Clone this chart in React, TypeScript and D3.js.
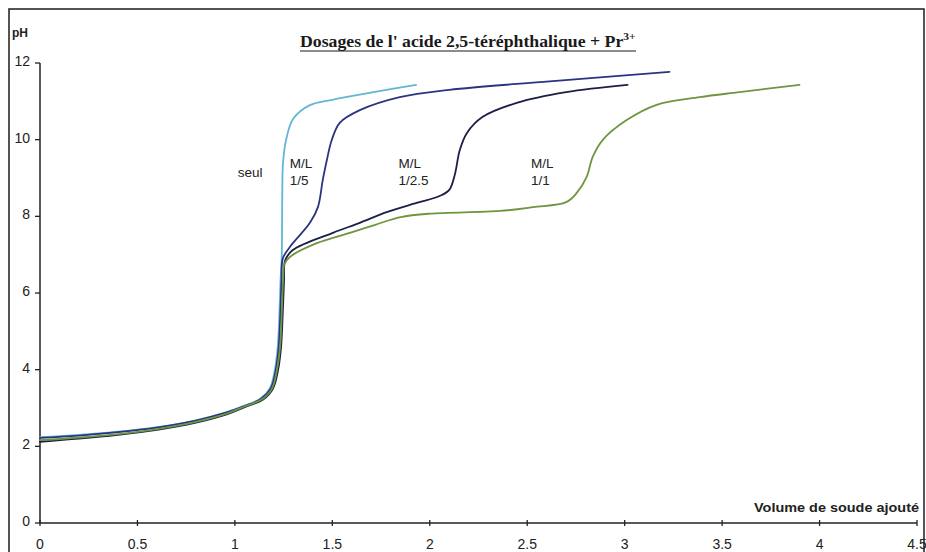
import React, { useEffect, useRef } from "react";
import * as d3 from "d3";

type Pt = [number, number];

const xTicks = [0, 0.5, 1, 1.5, 2, 2.5, 3, 3.5, 4, 4.5];
const yTicks = [0, 2, 4, 6, 8, 10, 12];

const seulData: Pt[] = [
  [0, 2.24], [0.2, 2.3], [0.4, 2.38], [0.6, 2.5], [0.8, 2.68], [0.95, 2.88],
  [1.05, 3.06], [1.13, 3.24], [1.18, 3.52], [1.205, 4.0], [1.22, 4.6],
  [1.228, 5.4], [1.234, 6.3], [1.24, 6.9], [1.242, 7.6], [1.243, 8.5],
  [1.247, 9.4], [1.265, 10.05], [1.3, 10.55], [1.385, 10.9], [1.5, 11.04],
  [1.69, 11.22], [1.93, 11.43],
];

const ml15Data: Pt[] = [
  [0, 2.22], [0.2, 2.28], [0.4, 2.37], [0.6, 2.49], [0.8, 2.67], [0.95, 2.87],
  [1.05, 3.05], [1.135, 3.24], [1.185, 3.52], [1.21, 4.0], [1.225, 4.6],
  [1.233, 5.4], [1.239, 6.3], [1.246, 6.9], [1.282, 7.2], [1.385, 7.83],
  [1.426, 8.24], [1.451, 8.95], [1.472, 9.47], [1.497, 9.99], [1.538, 10.44],
  [1.641, 10.77], [1.846, 11.11], [2.1, 11.3], [2.615, 11.52], [3.23, 11.77],
];

const ml125Data: Pt[] = [
  [0, 2.12], [0.2, 2.2], [0.4, 2.3], [0.6, 2.43], [0.8, 2.62], [0.95, 2.82],
  [1.05, 3.02], [1.145, 3.22], [1.195, 3.5], [1.222, 4.0], [1.237, 4.6],
  [1.245, 5.4], [1.252, 6.3], [1.258, 6.85], [1.297, 7.12], [1.503, 7.57],
  [1.641, 7.83], [1.779, 8.11], [1.933, 8.35], [2.05, 8.53], [2.1, 8.69],
  [2.128, 9.08], [2.154, 9.73], [2.19, 10.17], [2.27, 10.59], [2.446, 10.96],
  [2.7, 11.24], [3.015, 11.43],
];

const ml11Data: Pt[] = [
  [0, 2.16], [0.2, 2.23], [0.4, 2.32], [0.6, 2.45], [0.8, 2.64], [0.95, 2.84],
  [1.05, 3.04], [1.14, 3.23], [1.19, 3.5], [1.216, 4.0], [1.232, 4.6],
  [1.24, 5.4], [1.247, 6.3], [1.254, 6.75], [1.282, 6.94], [1.42, 7.3],
  [1.59, 7.57], [1.72, 7.78], [1.85, 7.98], [2.0, 8.07], [2.36, 8.14],
  [2.53, 8.24], [2.7, 8.37], [2.754, 8.61], [2.805, 9.03], [2.836, 9.55],
  [2.887, 9.99], [3.01, 10.51], [3.164, 10.91], [3.385, 11.11], [3.59, 11.24],
  [3.897, 11.43],
];

const seriesNames = ["seul", "M/L 1/5", "M/L 1/2.5", "M/L 1/1"];
const seriesData = [seulData, ml15Data, ml125Data, ml11Data];
const seriesColors = ["#62b6d4", "#2b3480", "#1c1f45", "#6f9540"];

// label lines and anchor in data coords [vol, pH]
const labelLines = [["seul"], ["M/L", "1/5"], ["M/L", "1/2.5"], ["M/L", "1/1"]];
const labelPos: Pt[] = [[1.015, 9.02], [1.282, 9.27], [1.84, 9.27], [2.52, 9.27]];

export default function App() {
  const ref = useRef<SVGSVGElement | null>(null);

  useEffect(() => {
    const svg = d3.select(ref.current);
    svg.selectAll("*").remove();

    const x = d3.scaleLinear().domain([0, 4.5]).range([40, 917]);
    const y = d3.scaleLinear().domain([0, 12]).range([523, 63]);

    svg.append("rect").attr("width", 926).attr("height", 552).attr("fill", "#fff");

    // outer frame
    svg
      .append("rect")
      .attr("x", 9)
      .attr("y", 9)
      .attr("width", 915)
      .attr("height", 600)
      .attr("fill", "none")
      .attr("stroke", "#2a2a2a")
      .attr("stroke-width", 1.6);

    const font = "Arial, 'Liberation Sans', sans-serif";
    const txt = "#222";

    // Y axis
    svg
      .append("line")
      .attr("x1", x(0)).attr("x2", x(0))
      .attr("y1", y(12)).attr("y2", y(0))
      .attr("stroke", "#222").attr("stroke-width", 1.5);
    const yg = svg.append("g");
    yTicks.forEach((t) => {
      yg.append("line")
        .attr("x1", x(0) - 5).attr("x2", x(0))
        .attr("y1", y(t)).attr("y2", y(t))
        .attr("stroke", "#222").attr("stroke-width", 1.3);
      yg.append("text")
        .attr("x", 30)
        .attr("y", y(t) + 3)
        .attr("text-anchor", "end")
        .attr("font-family", font)
        .attr("font-size", 14)
        .attr("fill", txt)
        .text(String(t));
    });

    // X axis
    svg
      .append("line")
      .attr("x1", x(0)).attr("x2", x(4.5))
      .attr("y1", y(0)).attr("y2", y(0))
      .attr("stroke", "#222").attr("stroke-width", 1.5);
    const xg = svg.append("g");
    xTicks.forEach((t) => {
      xg.append("line")
        .attr("x1", x(t)).attr("x2", x(t))
        .attr("y1", y(0) - 3).attr("y2", y(0) + 3)
        .attr("stroke", "#222").attr("stroke-width", 1.3);
      xg.append("text")
        .attr("x", x(t))
        .attr("y", 549)
        .attr("text-anchor", "middle")
        .attr("font-family", font)
        .attr("font-size", 14)
        .attr("fill", txt)
        .text(String(t));
    });

    // axis titles
    svg.append("text")
      .attr("x", 12).attr("y", 37)
      .attr("font-family", font).attr("font-size", 12).attr("font-weight", "bold")
      .attr("fill", txt).text("pH");
    svg.append("text")
      .attr("x", 919).attr("y", 512)
      .attr("text-anchor", "end")
      .attr("font-family", font).attr("font-size", 13).attr("font-weight", "bold")
      .attr("textLength", 165).attr("lengthAdjust", "spacingAndGlyphs")
      .attr("fill", txt).text("Volume de soude ajouté");

    // title
    const tg = svg.append("g");
    const title = tg.append("text")
      .attr("x", 0).attr("y", 0)
      .attr("font-family", "'Liberation Serif', 'Times New Roman', serif")
      .attr("font-size", 17)
      .attr("font-weight", "bold")
      .attr("fill", "#1a1a1a");
    title.append("tspan").text("Dosages de l' acide 2,5-téréphthalique + Pr");
    title.append("tspan").attr("dy", -7).attr("font-size", 11).text("3+");
    const bb = (title.node() as SVGTextElement).getBBox();
    const sx = 336 / bb.width;
    tg.attr("transform", `translate(300,47) scale(${sx},1)`);
    tg.append("line")
      .attr("x1", bb.x).attr("x2", bb.x + bb.width)
      .attr("y1", 4).attr("y2", 4)
      .attr("stroke", "#1a1a1a").attr("stroke-width", 1.2);

    // curves
    const line = d3
      .line<Pt>()
      .x((d) => x(d[0]))
      .y((d) => y(d[1]))
      .curve(d3.curveCatmullRom.alpha(0.5));

    seriesData.forEach((data, i) => {
      svg.append("path")
        .attr("d", line(data) || "")
        .attr("fill", "none")
        .attr("stroke", seriesColors[i])
        .attr("stroke-width", 1.8)
        .attr("stroke-linejoin", "round")
        .attr("stroke-linecap", "round")
        .attr("data-name", seriesNames[i]);
    });

    // labels
    labelLines.forEach((lines, i) => {
      const t = svg.append("text")
        .attr("font-family", font)
        .attr("font-size", 13.5)
        .attr("fill", txt);
      lines.forEach((s, j) => {
        t.append("tspan")
          .attr("x", x(labelPos[i][0]))
          .attr("y", y(labelPos[i][1]) + j * 17)
          .text(s);
      });
    });
  }, []);

  return (
    <svg
      ref={ref}
      width={926}
      height={552}
      style={{ position: "absolute", left: 0, top: 0, display: "block" }}
    />
  );
}
